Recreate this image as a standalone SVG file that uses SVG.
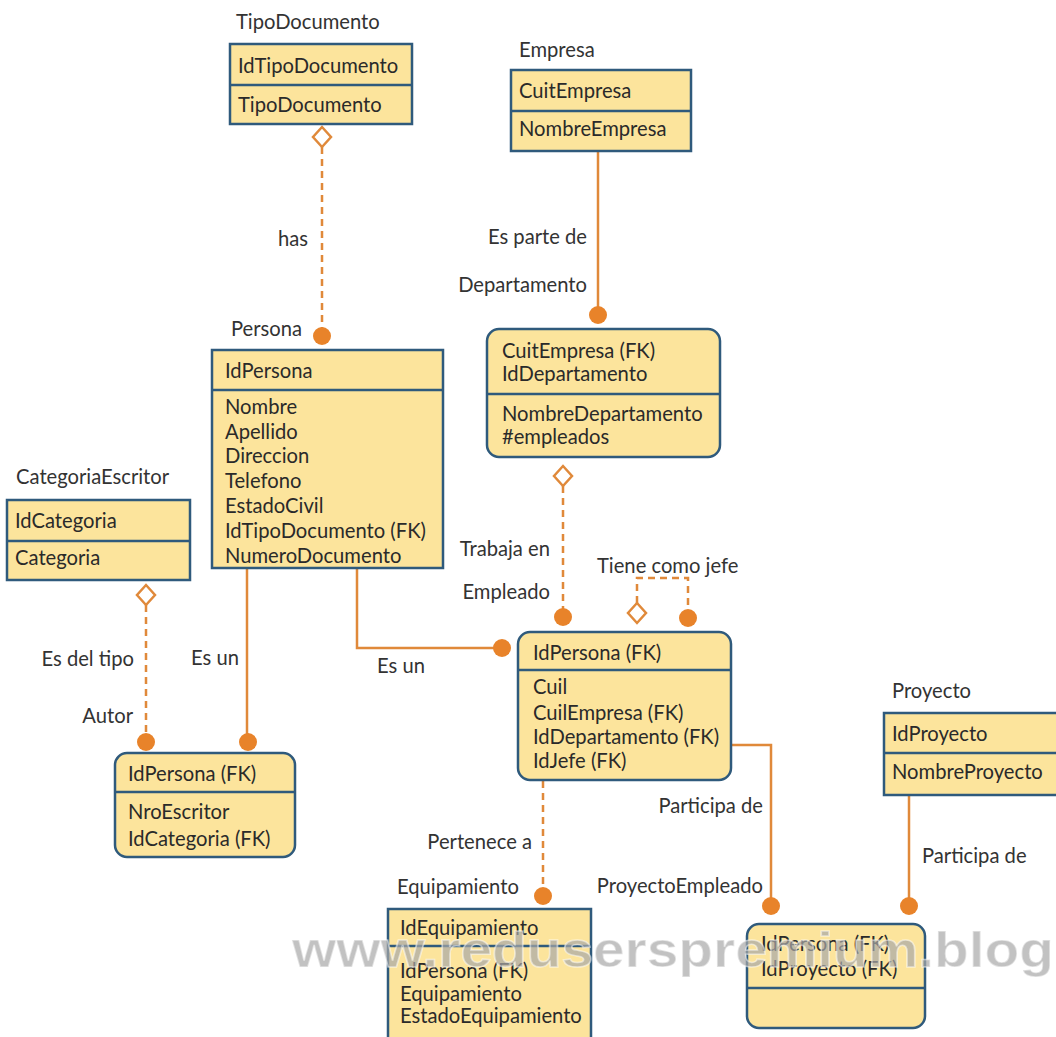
<svg xmlns="http://www.w3.org/2000/svg" width="1056" height="1037" viewBox="0 0 1056 1037">
<style>
.box{fill:#FCE49C;stroke:#2F5A7C;stroke-width:2.5}
.div{stroke:#2F5A7C;stroke-width:2.5}
.t{font-family:Lato,"Open Sans","Liberation Sans",sans-serif;font-size:20.2px;fill:#2a2a2a}
.lbl{font-family:Lato,"Open Sans","Liberation Sans",sans-serif;font-size:20.2px;fill:#333}
.r{text-anchor:end}
.c{fill:none;stroke:#E0893A;stroke-width:2.5}
.d{stroke-dasharray:7 5}
.dot{fill:#E8832A}
.dia{fill:#fff;stroke:#E0893A;stroke-width:2.5}
.wm{font-family:"Liberation Sans",Arial,sans-serif;font-weight:bold;font-size:50px;fill:#a8a8a8;fill-opacity:0.7;stroke:#ffffff;stroke-opacity:0.5;stroke-width:1.5}
</style>
<rect width="1056" height="1037" fill="#fff"/>

<g id="connectors">
  <line class="c d" x1="322" y1="147" x2="322" y2="330"/>
  <polygon class="dia" points="322,127 331,137 322,147 313,137"/>
  <circle class="dot" cx="322" cy="336" r="9"/>

  <line class="c" x1="598" y1="151" x2="598" y2="310"/>
  <circle class="dot" cx="598" cy="315" r="9"/>

  <line class="c d" x1="563" y1="486" x2="563" y2="610"/>
  <polygon class="dia" points="563,466 572,476 563,486 554,476"/>
  <circle class="dot" cx="563" cy="617" r="9"/>

  <polyline class="c d" points="637,603 637,578 688,578 688,612"/>
  <polygon class="dia" points="637,603 646,613 637,623 628,613"/>
  <circle class="dot" cx="688" cy="618" r="9"/>

  <polyline class="c" points="357,568 357,648 498,648"/>
  <circle class="dot" cx="502" cy="648" r="9"/>

  <line class="c" x1="247" y1="568" x2="247" y2="736"/>
  <circle class="dot" cx="248" cy="742" r="9"/>

  <line class="c d" x1="146" y1="605" x2="146" y2="736"/>
  <polygon class="dia" points="146,585 155,595 146,605 137,595"/>
  <circle class="dot" cx="146" cy="742" r="9"/>

  <line class="c d" x1="543" y1="781" x2="543" y2="890"/>
  <circle class="dot" cx="543" cy="896" r="9"/>

  <polyline class="c" points="731,745 771,745 771,900"/>
  <circle class="dot" cx="771" cy="906" r="9"/>

  <line class="c" x1="909" y1="795" x2="909" y2="900"/>
  <circle class="dot" cx="909" cy="906" r="9"/>

  <text class="lbl" x="278" y="246">has</text>
  <text class="lbl r" x="587" y="244">Es parte de</text>
  <text class="lbl r" x="587" y="292">Departamento</text>
  <text class="lbl r" x="550" y="556">Trabaja en</text>
  <text class="lbl r" x="550" y="599">Empleado</text>
  <text class="lbl" x="597" y="573">Tiene como jefe</text>
  <text class="lbl r" x="134" y="666">Es del tipo</text>
  <text class="lbl" x="191" y="665">Es un</text>
  <text class="lbl r" x="133" y="723">Autor</text>
  <text class="lbl" x="377" y="673">Es un</text>
  <text class="lbl r" x="532" y="849">Pertenece a</text>
  <text class="lbl r" x="763" y="813">Participa de</text>
  <text class="lbl r" x="763" y="893">ProyectoEmpleado</text>
  <text class="lbl" x="922" y="863">Participa de</text>
</g>

<g id="TipoDocumento">
  <text class="lbl" x="236" y="29">TipoDocumento</text>
  <rect class="box" x="230" y="44" width="182" height="80"/>
  <line class="div" x1="230" y1="85" x2="412" y2="85"/>
  <text class="t" x="238" y="73">IdTipoDocumento</text>
  <text class="t" x="238" y="112">TipoDocumento</text>
</g>

<g id="Empresa">
  <text class="lbl" x="519" y="57">Empresa</text>
  <rect class="box" x="511" y="70" width="180" height="81"/>
  <line class="div" x1="511" y1="111" x2="691" y2="111"/>
  <text class="t" x="519" y="98">CuitEmpresa</text>
  <text class="t" x="519" y="136">NombreEmpresa</text>
</g>

<g id="Persona">
  <text class="lbl" x="231" y="336">Persona</text>
  <rect class="box" x="212" y="350" width="231" height="218"/>
  <line class="div" x1="212" y1="390" x2="443" y2="390"/>
  <text class="t" x="225" y="378">IdPersona</text>
  <text class="t" x="225" y="414">Nombre</text>
  <text class="t" x="225" y="439">Apellido</text>
  <text class="t" x="225" y="463">Direccion</text>
  <text class="t" x="225" y="488">Telefono</text>
  <text class="t" x="225" y="513">EstadoCivil</text>
  <text class="t" x="225" y="538">IdTipoDocumento (FK)</text>
  <text class="t" x="225" y="563">NumeroDocumento</text>
</g>

<g id="Departamento">
  <rect class="box" x="487" y="329" width="233" height="128" rx="12"/>
  <line class="div" x1="487" y1="394" x2="720" y2="394"/>
  <text class="t" x="502" y="358">CuitEmpresa (FK)</text>
  <text class="t" x="502" y="381">IdDepartamento</text>
  <text class="t" x="502" y="421">NombreDepartamento</text>
  <text class="t" x="502" y="444">#empleados</text>
</g>

<g id="CategoriaEscritor">
  <text class="lbl" x="16" y="484">CategoriaEscritor</text>
  <rect class="box" x="7" y="500" width="183" height="80"/>
  <line class="div" x1="7" y1="541" x2="190" y2="541"/>
  <text class="t" x="15" y="528">IdCategoria</text>
  <text class="t" x="15" y="565">Categoria</text>
</g>

<g id="Autor">
  <rect class="box" x="115" y="753" width="180" height="104" rx="12"/>
  <line class="div" x1="115" y1="792" x2="295" y2="792"/>
  <text class="t" x="128" y="781">IdPersona (FK)</text>
  <text class="t" x="128" y="819">NroEscritor</text>
  <text class="t" x="128" y="846">IdCategoria (FK)</text>
</g>

<g id="Empleado">
  <rect class="box" x="518" y="632" width="213" height="148" rx="12"/>
  <line class="div" x1="518" y1="670" x2="731" y2="670"/>
  <text class="t" x="533" y="660">IdPersona (FK)</text>
  <text class="t" x="533" y="694">Cuil</text>
  <text class="t" x="533" y="720">CuilEmpresa (FK)</text>
  <text class="t" x="533" y="744">IdDepartamento (FK)</text>
  <text class="t" x="533" y="768">IdJefe (FK)</text>
</g>

<g id="Proyecto">
  <text class="lbl" x="892" y="698">Proyecto</text>
  <rect class="box" x="884" y="713" width="190" height="82"/>
  <line class="div" x1="884" y1="753" x2="1074" y2="753"/>
  <text class="t" x="892" y="741">IdProyecto</text>
  <text class="t" x="892" y="779">NombreProyecto</text>
</g>

<g id="Equipamiento">
  <text class="lbl" x="397" y="894">Equipamiento</text>
  <rect class="box" x="388" y="909" width="203" height="140"/>
  <line class="div" x1="388" y1="946" x2="591" y2="946"/>
  <text class="t" x="400" y="935">IdEquipamiento</text>
  <text class="t" x="400" y="978">IdPersona (FK)</text>
  <text class="t" x="400" y="1001">Equipamiento</text>
  <text class="t" x="400" y="1023">EstadoEquipamiento</text>
</g>

<g id="ProyectoEmpleado">
  <rect class="box" x="747" y="924" width="178" height="104" rx="12"/>
  <line class="div" x1="747" y1="988" x2="925" y2="988"/>
  <text class="t" x="761" y="951">IdPersona (FK)</text>
  <text class="t" x="761" y="976">IdProyecto (FK)</text>
</g>

<text class="wm" x="292" y="967" textLength="762" lengthAdjust="spacingAndGlyphs">www.reduserspremium.blog</text>
</svg>
